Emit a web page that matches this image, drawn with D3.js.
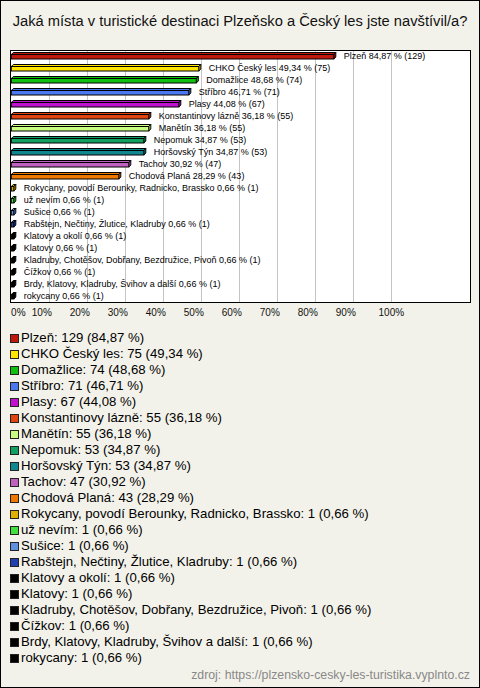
<!DOCTYPE html>
<html><head><meta charset="utf-8">
<script src="https://cdn.jsdelivr.net/npm/d3@7"></script>
<style>
html,body{margin:0;padding:0;background:#f3f2ea;}
svg{display:block;font-family:"Liberation Sans",Arial,sans-serif;}
</style></head>
<body><svg id="chart" width="480" height="688"></svg>
<script>
const title = "Jaká místa v turistické destinaci Plzeňsko a Český les jste navštívil/a?";
const categories = ["Plzeň","CHKO Český les","Domažlice","Stříbro","Plasy","Konstantinovy lázně","Manětín","Nepomuk","Horšovský Týn","Tachov","Chodová Planá","Rokycany, povodí Berounky, Radnicko, Brassko","už nevím","Sušice","Rabštejn, Nečtiny, Žlutice, Kladruby","Klatovy a okolí","Klatovy","Kladruby, Chotěšov, Dobřany, Bezdružice, Pivoň","Čížkov","Brdy, Klatovy, Kladruby, Švihov a další","rokycany"];
const counts = [129,75,74,71,67,55,55,53,53,47,43,1,1,1,1,1,1,1,1,1,1];
const percents = [84.87,49.34,48.68,46.71,44.08,36.18,36.18,34.87,34.87,30.92,28.29,0.66,0.66,0.66,0.66,0.66,0.66,0.66,0.66,0.66,0.66];
const colors = ["#c0180c","#ffe400","#10c010","#4a78f0","#c010d0","#e04410","#c8ff80","#10a060","#108890","#c060c0","#f07800","#e0b000","#40e040","#6090e0","#2040b0","#000000","#000000","#000000","#000000","#000000","#000000"];
const tickValues = [0,10,20,30,40,50,60,70,80,90,100];
const source = "zdroj: https://plzensko-cesky-les-turistika.vyplnto.cz";

const fmt = v => d3.format(".2f")(v).replace(".", ",");
const data = categories.map((c,i)=>({name:c,count:counts[i],pct:percents[i],color:colors[i]}));

const W = 480, H = 688;
const svg = d3.select("#chart");
svg.append("rect").attr("x",0.5).attr("y",0.5).attr("width",W-1).attr("height",H-1)
  .attr("fill","#f3f2ea").attr("stroke","#000");

svg.append("text").attr("x",W/2).attr("y",26).attr("text-anchor","middle")
  .attr("font-size",14.7).attr("fill","#111").text(title);

// plot area
const plot = {left:10.5, top:50.5, right:470.5, bottom:302.5};
svg.append("rect").attr("x",plot.left).attr("y",plot.top)
  .attr("width",plot.right-plot.left).attr("height",plot.bottom-plot.top)
  .attr("fill","#fff").attr("stroke","#000");

const x = d3.scaleLinear().domain([0,100]).range([11.3,391.3]);
const y = d3.scaleBand().domain(categories).range([50,302]);

// gridlines
svg.append("g").selectAll("line").data(tickValues.filter(v=>v>0)).join("line")
  .attr("x1",d=>Math.round(x(d))+0.5).attr("x2",d=>Math.round(x(d))+0.5)
  .attr("y1",plot.top+0.5).attr("y2",plot.bottom-0.5)
  .attr("stroke","#c4c4c4");

// axis labels
const axis = d3.axisBottom(x).tickValues(tickValues).tickSize(0).tickFormat(d=>d+"%");
const ag = svg.append("g").attr("transform","translate(0,306)").call(axis);
ag.select(".domain").remove();
ag.selectAll(".tick").attr("transform",d=>`translate(${x(d)+(d===0?7:d===100?0:-7.5)},0)`);
ag.selectAll("text").attr("font-size",10).attr("fill","#111")
  .attr("font-family","Liberation Sans, Arial, sans-serif");

// 3D bars
const depth = 2;
const bars = svg.append("g");
data.forEach(d=>{
  const c = y(d.name) + y.bandwidth()/2;
  const x0 = x(0), x1 = x(d.pct);
  const yt = c - 1.5, yb = c + 3;
  bars.append("path")
    .attr("d",`M${x0},${yt}L${x0+depth},${yt-depth}L${x1+depth},${yt-depth}L${x1},${yt}Z`)
    .attr("fill",d.color).attr("stroke","#000").attr("stroke-width",1).attr("stroke-linejoin","round");
  bars.append("path")
    .attr("d",`M${x1},${yt}L${x1+depth},${yt-depth}L${x1+depth},${yb-depth}L${x1},${yb}Z`)
    .attr("fill",d.color).attr("stroke","#000").attr("stroke-width",1).attr("stroke-linejoin","round");
  bars.append("rect").attr("x",x0).attr("y",yt).attr("width",x1-x0).attr("height",yb-yt)
    .attr("fill",d.color).attr("stroke","#000").attr("stroke-width",1);
  bars.append("text").attr("x",x1+10).attr("y",c+3.2)
    .attr("font-size",9).attr("fill","#000")
    .text(`${d.name} ${fmt(d.pct)} % (${d.count})`);
});

// legend
const ly = d3.scalePoint().domain(categories).range([337.5,657.5]);
const lg = svg.append("g");
data.forEach(d=>{
  const c = ly(d.name);
  lg.append("rect").attr("x",10.5).attr("y",Math.round(c-4)+0.5).attr("width",8).attr("height",8)
    .attr("fill",d.color).attr("stroke","#222");
  lg.append("text").attr("x",21).attr("y",c+4.5).attr("font-size",13.2).attr("fill","#000")
    .text(`${d.name}: ${d.count} (${fmt(d.pct)} %)`);
});

svg.append("text").attr("x",470).attr("y",679).attr("text-anchor","end")
  .attr("font-size",12.3).attr("fill","#888").text(source);
</script></body></html>
